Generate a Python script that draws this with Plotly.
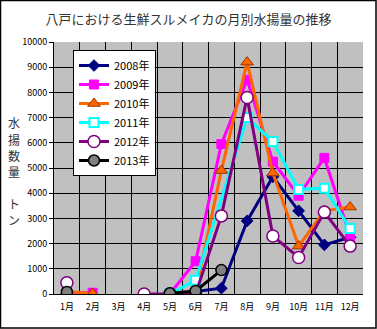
import plotly.graph_objects as go

months = ["1月", "2月", "3月", "4月", "5月", "6月", "7月", "8月", "9月", "10月", "11月", "12月"]
y_ticks = [0, 1000, 2000, 3000, 4000, 5000, 6000, 7000, 8000, 9000, 10000]
y_tick_text = [str(v) for v in y_ticks]
caption_chars = ["水", "揚", "数", "量", "ト", "ン"]

# 月別水揚量（トン）: None は欠測
catch_2008 = [None, None, None, None, None, 100, 230, 2900, 4650, 3300, 1950, 2250]
catch_2009 = [50, 50, None, None, 0, 1300, 5950, 8500, 5250, 3900, 5400, 2300]
catch_2010 = [100, 20, None, None, 0, 100, 4900, 9200, 4800, 1900, 3300, 3450]
catch_2011 = [None, None, None, None, 0, 550, None, 7000, 6050, 4150, 4200, 2600]
catch_2012 = [450, None, None, 0, 0, 0, 3100, 7800, 2300, 1450, 3250, 1900]
catch_2013 = [80, None, None, None, 30, 120, 950, None, None, None, None, None]

x = list(range(1, 13))

series = [
    ("2008年", catch_2008, dict(color="#000080", width=3),
     dict(symbol="diamond", size=9, color="#000080", line=dict(color="#000080", width=1)), False),
    ("2009年", catch_2009, dict(color="#FF00FF", width=3),
     dict(symbol="square", size=9, color="#FF00FF", line=dict(color="#FF00FF", width=1)), False),
    ("2010年", catch_2010, dict(color="#FF6600", width=3),
     dict(symbol="triangle-up", size=11, color="#FF6600", line=dict(color="#993300", width=1)), False),
    ("2011年", catch_2011, dict(color="#00FFFF", width=3),
     dict(symbol="square", size=9, color="#FFFFFF", line=dict(color="#00FFFF", width=2)), True),
    ("2012年", catch_2012, dict(color="#800080", width=3),
     dict(symbol="circle", size=12, color="#FFFFFF", line=dict(color="#800080", width=1.5)), False),
    ("2013年", catch_2013, dict(color="#000000", width=3),
     dict(symbol="circle", size=11, color="#808080", line=dict(color="#000000", width=1.5)), False),
]

fig = go.Figure()
for name, vals, line, marker, gaps in series:
    fig.add_trace(go.Scatter(
        x=x, y=vals, name=name, mode="lines+markers",
        line=line, marker=marker, connectgaps=gaps,
    ))

font_family = "Noto Sans CJK JP"

# plot area: 54..363 px horizontally, 42..294 px vertically
ml, mr, mt, mb = 54, 14, 42, 35
W, H = 377, 329
pw, ph = W - ml - mr, H - mt - mb


def px_x(px):
    return (px - ml) / pw


def px_y(py):
    return (H - mb - py) / ph


fig.update_layout(
    width=W, height=H,
    margin=dict(l=ml, r=mr, t=mt, b=mb),
    paper_bgcolor="#FFFFFF",
    plot_bgcolor="#C0C0C0",
    font=dict(family=font_family, size=9, color="#000000"),
    title=dict(text="八戸における生鮮スルメイカの月別水揚量の推移",
               x=0.5, xanchor="center", y=0.94, yanchor="middle",
               font=dict(family=font_family, size=13, color="#333333")),
    showlegend=True,
    legend=dict(
        x=px_x(73), y=px_y(50), xanchor="left", yanchor="top",
        bgcolor="#FFFFFF", bordercolor="#000000", borderwidth=1,
        font=dict(family=font_family, size=11, color="#000000"),
        tracegroupgap=0, itemwidth=30,
    ),
    xaxis=dict(
        range=[0.5, 12.5], tickmode="array", tickvals=x, ticktext=months,
        showgrid=False, zeroline=False,
        showline=True, linecolor="#000000", linewidth=1,
        ticks="", ticklabelstandoff=4, tickfont=dict(family=font_family, size=9),
        minor=dict(tickmode="linear", tick0=0.5, dtick=1, showgrid=True,
                   gridcolor="#000000", gridwidth=1, ticks=""),
        fixedrange=True,
    ),
    yaxis=dict(
        range=[0, 10000], tickmode="array", tickvals=y_ticks, ticktext=y_tick_text,
        showgrid=True, gridcolor="#000000", gridwidth=1, zeroline=False,
        showline=True, linecolor="#000000", linewidth=1,
        ticks="outside", ticklen=4, tickcolor="#000000",
        tickfont=dict(family=font_family, size=9),
        fixedrange=True,
    ),
)

# vertical axis caption, one character per line
caption_rows = [123, 139, 155, 171, 203, 219]
for ch, row in zip(caption_chars, caption_rows):
    fig.add_annotation(
        text=ch, xref="paper", yref="paper",
        x=px_x(14), y=px_y(row), xanchor="center", yanchor="middle",
        showarrow=False,
        font=dict(family=font_family, size=12, color="#333333"),
    )

# outer frame of the chart
fig.add_shape(
    type="rect", xref="paper", yref="paper",
    x0=px_x(0.5), x1=px_x(W - 1),
    y0=px_y(H - 1), y1=px_y(0.5),
    line=dict(color="#000000", width=1.5), fillcolor="rgba(0,0,0,0)",
    layer="above",
)

fig.write_html("out.html")
